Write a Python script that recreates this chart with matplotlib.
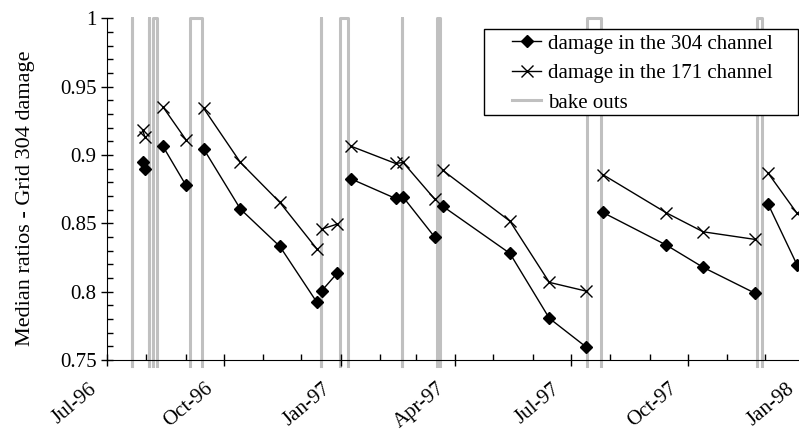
import numpy as np
import pandas as pd
import matplotlib
matplotlib.use('Agg')
import matplotlib.pyplot as plt
import matplotlib.dates as mdates
from matplotlib.ticker import MultipleLocator, FuncFormatter
from matplotlib.transforms import ScaledTranslation
from matplotlib.patches import Rectangle

plt.rcParams['font.family'] = ['Liberation Serif', 'DejaVu Serif']
plt.rcParams['font.size'] = 15

# measurement dates, run number (a new run starts after each bake out)
dates = ['1996-07-29', '1996-07-31',
         '1996-08-14', '1996-09-01',
         '1996-09-15', '1996-10-14', '1996-11-14', '1996-12-13',
         '1996-12-17', '1996-12-29',
         '1997-01-09', '1997-02-13', '1997-02-19', '1997-03-16',
         '1997-03-22', '1997-05-14', '1997-06-14', '1997-07-13',
         '1997-07-26', '1997-09-14', '1997-10-13', '1997-11-23',
         '1997-12-03', '1997-12-26']
run = [1, 1, 2, 2, 3, 3, 3, 3, 4, 4, 5, 5, 5, 5, 6, 6, 6, 6, 7, 7, 7, 7, 8, 8]
r304 = [0.8945, 0.8900,
        0.9064, 0.8780,
        0.9045, 0.8604, 0.8331, 0.7924,
        0.8007, 0.8134,
        0.8825, 0.8682, 0.8692, 0.8397,
        0.8626, 0.8280, 0.7805, 0.7595,
        0.8580, 0.8341, 0.8178, 0.7988,
        0.8643, 0.8194]
r171 = [0.9181, 0.9128,
        0.9352, 0.9113,
        0.9342, 0.8945, 0.8653, 0.8314,
        0.8458, 0.8494,
        0.9064, 0.8938, 0.8945, 0.8675,
        0.8889, 0.8516, 0.8068, 0.8004,
        0.8857, 0.8577, 0.8438, 0.8382,
        0.8869, 0.8572]

bake_start = ['1996-07-21', '1996-08-03', '1996-08-06', '1996-09-04', '1996-12-16',
              '1996-12-31', '1997-02-18', '1997-03-18', '1997-07-14', '1997-11-24']
bake_end = ['1996-07-21', '1996-08-03', '1996-08-09', '1996-09-14', '1996-12-16',
            '1997-01-07', '1997-02-18', '1997-03-20', '1997-07-25', '1997-11-28']
bake_low, bake_high = 0.7455, 1.0


def split_runs(x, y, runs):
    xs, ys = [], []
    prev = runs[0]
    for xi, yi, r in zip(x, y, runs):
        if r != prev:
            xs.append(np.nan)
            ys.append(np.nan)
            prev = r
        xs.append(xi)
        ys.append(yi)
    return np.array(xs), np.array(ys)


d = mdates.date2num(pd.to_datetime(dates))
x304, y304 = split_runs(d, r304, run)
x171, y171 = split_runs(d, r171, run)

bx, by = [], []
for s, e in zip(mdates.date2num(pd.to_datetime(bake_start)),
                mdates.date2num(pd.to_datetime(bake_end))):
    bx += [s, s, e, e, np.nan]
    by += [bake_low, bake_high, bake_high, bake_low, np.nan]

W, H = 799, 432
fig = plt.figure(figsize=(W / 100, H / 100), dpi=100)
ax = fig.add_axes([107 / W, 72 / H, 755 / W, 341.7 / H])

ax.plot(bx, by, color='#c0c0c0', lw=2.2, clip_on=False, label='bake outs', zorder=1)
ax.plot(x304, y304, color='black', lw=1, marker='D', ms=6, label='damage in the 304 channel', zorder=3)
ax.plot(x171, y171, color='black', lw=1, marker='x', ms=8, mew=1, label='damage in the 171 channel', zorder=3)

ax.set_xlim(mdates.date2num(pd.Timestamp('1996-07-01')), mdates.date2num(pd.Timestamp('1998-02-15')))
ax.set_ylim(0.75, 1.0)

ax.xaxis.set_major_locator(mdates.MonthLocator(bymonth=[1, 4, 7, 10]))
ax.xaxis.set_minor_locator(mdates.MonthLocator())
ax.xaxis.set_major_formatter(mdates.DateFormatter('%b-%y'))
ax.yaxis.set_major_locator(MultipleLocator(0.05))
ax.yaxis.set_minor_locator(MultipleLocator(0.01))
ax.yaxis.set_major_formatter(FuncFormatter(lambda v, p: '%g' % round(v, 2)))

ax.tick_params(axis='both', which='major', direction='inout', length=8, width=1)
ax.tick_params(axis='both', which='minor', direction='in', length=4, width=1)
ax.tick_params(axis='x', which='major', pad=10)
shift = ScaledTranslation(-19 / 100, 0, fig.dpi_scale_trans)
for tick in ax.xaxis.get_major_ticks():
    lab = tick.label1
    lab.set_rotation(40)
    lab.set_ha('right')
    lab.set_va('top')
    lab.set_rotation_mode('anchor')
    lab.set_transform(lab.get_transform() + shift)

ax.spines['top'].set_visible(False)
ax.spines['right'].set_visible(False)
ax.set_ylabel('Median ratios - Grid 304 damage', fontsize=16)
ax.yaxis.set_label_coords(-0.0954, 0.474)

# legend box drawn as a plain white rectangle so the bake-out lines stay behind it
ax.add_patch(Rectangle((484 / W, 1 - 115 / H), 314 / W, 86 / H, transform=fig.transFigure,
                       facecolor='white', edgecolor='black', lw=1, clip_on=False, zorder=4.5))
handles, labels = ax.get_legend_handles_labels()
order = [1, 2, 0]
leg = ax.legend([handles[i] for i in order], [labels[i] for i in order],
                loc='upper left', bbox_to_anchor=(512 / W, 1 - 34 / H),
                bbox_transform=fig.transFigure, borderaxespad=0, borderpad=0,
                frameon=False, numpoints=1,
                handlelength=1.4, handletextpad=0.35, labelspacing=0.48)
leg.set_zorder(5)

fig.savefig('out.png', dpi=100)
